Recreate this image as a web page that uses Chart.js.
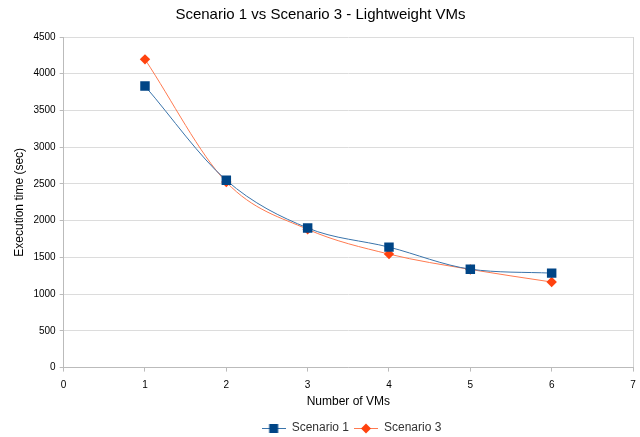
<!DOCTYPE html>
<html><head><meta charset="utf-8">
<script src="https://cdn.jsdelivr.net/npm/chart.js@4/dist/chart.umd.min.js"></script>
<style>html,body{margin:0;padding:0;background:#fff}#wrap{width:640px;height:437px}</style>
</head><body><div id="wrap"><canvas id="c"></canvas></div>
<script>
const xValues = [1, 2, 3, 4, 5, 6];
const scenario1 = [3832, 2550, 1900, 1640, 1340, 1286];
const scenario3 = [4196, 2525, 1882, 1545, 1336, 1165];
const seriesNames = ['Scenario 1', 'Scenario 3'];
const titleText = 'Scenario 1 vs Scenario 3 - Lightweight VMs';

const FONT = '"Liberation Sans", Arial, sans-serif';
Chart.defaults.font.family = FONT;
Chart.defaults.color = '#000';

const BLUE = '#004586', BLUE_LINE = '#3a74ab', ORANGE = '#ff420e', ORANGE_LINE = '#ff7a50';

function legendIcon(lineColor, fill, shape) {
  const c = document.createElement('canvas');
  c.width = 24; c.height = 12;
  const g = c.getContext('2d');
  g.strokeStyle = lineColor; g.lineWidth = 1;
  g.beginPath(); g.moveTo(0, 6.5); g.lineTo(24, 6.5); g.stroke();
  g.fillStyle = fill;
  g.beginPath();
  if (shape === 'rect') { g.rect(7.5, 2, 9, 9); }
  else { g.moveTo(12, 1.5); g.lineTo(17, 6.5); g.lineTo(12, 11.5); g.lineTo(7, 6.5); g.closePath(); }
  g.fill();
  return c;
}
const icons = [legendIcon(BLUE_LINE, BLUE, 'rect'), legendIcon(ORANGE_LINE, ORANGE, 'diamond')];

const shiftLegend = {
  id: 'shiftLegend',
  afterLayout(chart) { const l = chart.legend; if (l) { l.left += 31; l.right += 31; } }
};

new Chart(document.getElementById('c'), {
  type: 'line',
  plugins: [shiftLegend],
  data: {
    datasets: [
      { label: seriesNames[0], data: xValues.map((x,i)=>({x, y: scenario1[i]})),
        borderColor: BLUE_LINE, backgroundColor: BLUE, borderWidth: 1,
        pointStyle: 'rect', pointRadius: 6.7, pointHoverRadius: 6.7, pointBorderWidth: 0, cubicInterpolationMode: 'monotone' },
      { label: seriesNames[1], data: xValues.map((x,i)=>({x, y: scenario3[i]})),
        borderColor: ORANGE_LINE, backgroundColor: ORANGE, borderWidth: 1,
        pointStyle: 'rectRot', pointRadius: 5.2, pointHoverRadius: 5.2, pointBorderWidth: 0, cubicInterpolationMode: 'monotone' }
    ]
  },
  options: {
    responsive: true, maintainAspectRatio: false, animation: false,
    layout: { padding: { left: 8, right: 7, top: 0, bottom: -7 } },
    plugins: {
      title: { display: true, text: titleText, font: { size: 15, weight: 'normal' }, color: '#000', padding: { top: 6, bottom: 13 } },
      legend: { position: 'bottom', labels: { usePointStyle: true, pointStyleWidth: 24, boxHeight: 12, font: { size: 12 }, color: '#333', padding: 5,
        generateLabels(chart) {
          return chart.data.datasets.map((d, i) => ({ text: d.label, fillStyle: d.backgroundColor, strokeStyle: d.backgroundColor,
            pointStyle: icons[i], lineWidth: 0, datasetIndex: i, fontColor: '#333' }));
        } } },
      tooltip: { enabled: false }
    },
    scales: {
      x: { type: 'linear', min: 0, max: 7,
        afterFit(scale) { scale.paddingRight = 0; },
        ticks: { stepSize: 1, font: { size: 10 }, color: '#000', padding: 8, callback: v => String(v) },
        grid: { color: c => c.tick && c.tick.value === 7 ? '#d4d4d4' : 'rgba(0,0,0,0)', tickColor: '#bbb', tickLength: 4, drawTicks: true },
        border: { color: '#bbb' },
        title: { display: true, text: 'Number of VMs', font: { size: 12 }, color: '#000', padding: { top: -5, bottom: 8 } } },
      y: { min: 0, max: 4500,
        ticks: { stepSize: 500, font: { size: 10 }, color: '#000', padding: 4, callback: v => String(v) },
        grid: { color: '#dcdcdc', tickColor: '#bbb', tickLength: 4 },
        border: { color: '#bbb' },
        title: { display: true, text: 'Execution time (sec)', font: { size: 12 }, color: '#000', padding: { bottom: 3 } } }
    }
  }
});
</script></body></html>
